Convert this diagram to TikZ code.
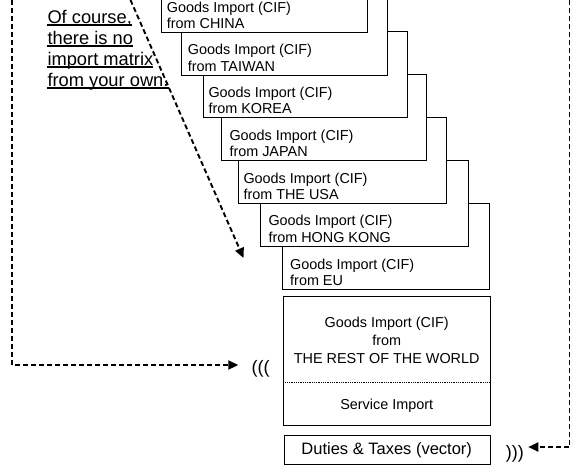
\documentclass[tikz,border=0pt]{standalone}
\usepackage{fontspec}
\setmainfont{Liberation Sans}
\usetikzlibrary{arrows.meta}

\begin{document}
\begin{tikzpicture}[x=1pt, y=-1pt,
  stackbox/.style={draw=black, line width=0.9pt, fill=white, rectangle,
                   inner sep=0pt, outer sep=0pt},
  boxtxt/.style={font=\fontsize{14.4}{16.4}\selectfont, inner sep=0pt, anchor=base west},
  ctrtxt/.style={font=\fontsize{14.4}{16.4}\selectfont, inner sep=0pt, anchor=base},
  note/.style={font=\fontsize{18.3}{21}\selectfont, inner sep=0pt, anchor=base west},
  paren/.style={font=\fontsize{18}{20}\selectfont, inner sep=0pt, anchor=base west},
  flow/.style={line width=1.9pt, dash pattern=on 5pt off 3pt,
               -{Triangle[length=10pt,width=9pt]}},
]
\fill[white] (0,0) rectangle (572,466);
\useasboundingbox (0,0) rectangle (572,466);
\clip (0,0) rectangle (572,466);

% staircase of import matrices, back to front
\foreach \nm/\l/\r/\b/\tx/\cty in {
    eu/282.7/489.3/289.3/290/EU,
    hk/260/468.3/246/268.3/HONG KONG,
    usa/238.3/446.7/203.3/243.3/THE USA,
    japan/221.7/426.7/160.7/229.3/JAPAN,
    korea/203.3/407.3/117.7/208.3/KOREA,
    taiwan/181.7/387.5/75/187.7/TAIWAN,
    china/161/367.5/32.3/166.7/CHINA}{
  \node[stackbox, minimum width={(\r-\l)*1pt}, minimum height=86pt]
       (\nm) at ({(\l+\r)/2},{\b-43}) {};
  \node[boxtxt] (\nm-a) at (\tx,{\b-20.3}) {Goods Import (CIF)};
  \node[boxtxt] (\nm-b) at (\tx,{\b-3.8}) {from \cty};
}

% rest of the world, goods and services
\node[stackbox, minimum width=206.7pt, minimum height=128.3pt] (row) at (386.65,360.85) {};
\coordinate (sep) at (0,382.7);
\draw[line width=1.3pt, dash pattern=on 1pt off 0.8pt] (row.west |- sep) -- (row.east |- sep);
\node[ctrtxt] (row-a) at (386.7,327.3) {Goods Import (CIF)};
\node[ctrtxt] (row-b) at (386.7,345.2) {from};
\node[ctrtxt] (row-c) at (386.7,363.8) {THE REST OF THE WORLD};
\node[ctrtxt] (svc) at (386.7,409) {Service Import};

% duties and taxes
\node[stackbox, minimum width=205.7pt, minimum height=29pt] (duty) at (387.15,449.5) {};
\node[ctrtxt, font=\fontsize{16.5}{18}\selectfont] (duty-t) at (386.7,454.3) {Duties \& Taxes (vector)};

% brackets
\node[paren] (lpar) at (251.5,373.3) {(((};
\node[paren] (rpar) at (505.7,458.5) {)))};

% remark
\node[note] (n1) at (47.3,23) {Of course,};
\node[note] (n2) at (47.3,44) {there is no};
\node[note] (n3) at (47.3,65) {import matrix};
\node[note] (n4) at (47.3,86) {from your own.};
\foreach \n in {n1,n2,n3,n4}
  \draw[line width=1.5pt] ([yshift=-2.2pt]\n.base west) -- ([yshift=-2.2pt]\n.base east);

% dashed connectors
\coordinate (ltop) at (12.3,0);
\coordinate (lend) at (238.3,365);
\draw[flow] (ltop) |- (lend);
\coordinate (rtop) at (569.5,0);
\coordinate (rend) at (528.3,447);
\draw[flow] (rtop) |- (rend);
\coordinate (dtop) at (130.5,0);
\coordinate (dend) at (243.5,258);
\draw[flow] (dtop) -- (dend);
\end{tikzpicture}
\end{document}
